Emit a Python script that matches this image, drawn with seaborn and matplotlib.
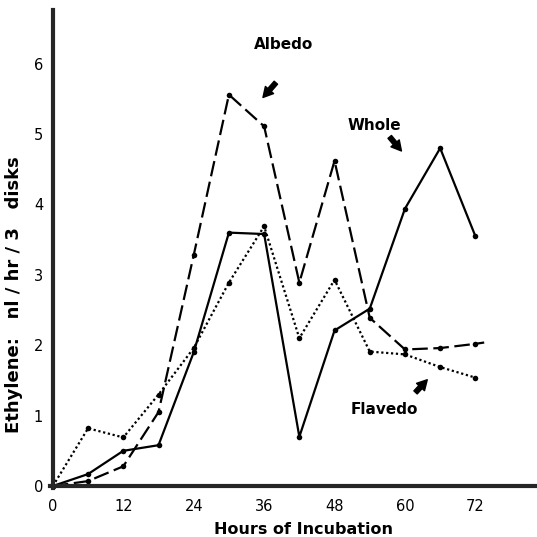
import matplotlib
matplotlib.use("Agg")
import matplotlib.pyplot as plt
import seaborn as sns
import pandas as pd

# 측정 시간 (시간)
hours = [0, 6, 12, 18, 24, 30, 36, 42, 48, 54, 60, 66, 72]

# 에틸렌 생성량 (nl/hr/3 disks)
whole = [0, 0.17, 0.50, 0.58, 1.90, 3.60, 3.58, 0.70, 2.21, 2.52, 3.94, 4.80, 3.55]
albedo = [0, 0.07, 0.28, 1.05, 3.28, 5.56, 5.11, 2.89, 4.62, 2.39, 1.94, 1.96, 2.02]
flavedo = [0, 0.82, 0.69, 1.30, 1.96, 2.89, 3.69, 2.10, 2.93, 1.91, 1.87, 1.69, 1.54]

x_ticks = [0, 12, 24, 36, 48, 60, 72]
y_ticks = [0, 1, 2, 3, 4, 5, 6]

df = pd.DataFrame({
    'Hours': hours * 3,
    'Ethylene': whole + albedo + flavedo,
    'Tissue': ['Whole'] * len(hours) + ['Albedo'] * len(hours) + ['Flavedo'] * len(hours),
})

sns.set_style("white")
plt.rcParams['font.family'] = ['DejaVu Sans']
plt.rcParams['text.color'] = 'black'
plt.rcParams['axes.labelcolor'] = 'black'
plt.rcParams['xtick.color'] = 'black'
plt.rcParams['ytick.color'] = 'black'

fig = plt.figure(figsize=(5.37, 5.37), dpi=100)
ax = fig.add_axes([0.093, 0.091, 0.907, 0.89])

line_styles = {
    'Whole': '-',
    'Albedo': (0, (7, 2.5)),
    'Flavedo': (0, (1, 1.2)),
}
for name, ls in line_styles.items():
    sub = df[df['Tissue'] == name]
    sns.lineplot(data=sub, x='Hours', y='Ethylene', color='black',
                 linewidth=1.6, linestyle=ls, marker='o', markersize=4,
                 markeredgewidth=0, ax=ax)

# albedo 끝부분 꼬리
ax.plot([72, 73.6], [2.02, 2.04], color='black', linewidth=1.6, linestyle=(0, (4, 2.5)))

ax.set_xlim(-0.5, 82.5)
ax.set_ylim(-0.03, 6.76)
ax.set_xticks(x_ticks)
ax.set_yticks(y_ticks)
ax.tick_params(axis='x', direction='in', length=4, width=1.5, labelsize=10.5, pad=9)
ax.tick_params(axis='y', direction='out', length=3, width=1.5, labelsize=10.5, pad=4)
for lbl in ax.get_xticklabels() + ax.get_yticklabels():
    lbl.set_fontweight('bold')

for side in ['top', 'right']:
    ax.spines[side].set_visible(False)
ax.spines['left'].set_linewidth(3)
ax.spines['bottom'].set_linewidth(3)
ax.spines['left'].set_position(('data', 0))
ax.spines['bottom'].set_position(('data', 0))

ax.set_xlabel('Hours of Incubation', fontsize=11.5, fontweight='bold')
ax.set_ylabel('Ethylene:   nl / hr / 3   disks', fontsize=13, fontweight='bold')
ax.xaxis.set_label_coords(0.52, -0.07)
ax.yaxis.set_label_coords(-0.056, 0.405)

# 라벨과 화살표
ax.text(39.3, 6.27, 'Albedo', fontsize=11, fontweight='bold', ha='center', va='center')
ax.text(54.7, 5.12, 'Whole', fontsize=11, fontweight='bold', ha='center', va='center')
ax.text(56.4, 1.09, 'Flavedo', fontsize=11, fontweight='bold', ha='center', va='center')

arrow = dict(arrowstyle='simple,head_length=0.55,head_width=0.6,tail_width=0.25',
             color='black', shrinkA=0, shrinkB=0, mutation_scale=13)
ax.annotate('', xy=(35.8, 5.52), xytext=(38.0, 5.73), arrowprops=arrow)
ax.annotate('', xy=(59.4, 4.76), xytext=(57.4, 4.96), arrowprops=arrow)
ax.annotate('', xy=(63.8, 1.51), xytext=(61.8, 1.33), arrowprops=arrow)

fig.savefig('out.png', dpi=100)
